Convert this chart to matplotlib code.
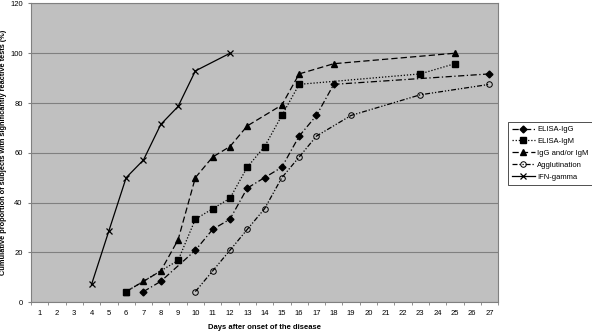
import matplotlib.pyplot as plt

plt.rcParams['font.family'] = ['Liberation Sans', 'DejaVu Sans']

# Datos (dia, porcentaje)
days = list(range(1, 28))

igg_days = [7, 8, 10, 11, 12, 13, 14, 15, 16, 17, 18, 27]
igg_vals = [4.2, 8.3, 20.8, 29.2, 33.3, 45.8, 50.0, 54.2, 66.7, 75.0, 87.5, 91.7]

igm_days = [6, 9, 10, 11, 12, 13, 14, 15, 16, 23, 25]
igm_vals = [4.2, 16.7, 33.3, 37.5, 41.7, 54.2, 62.5, 75.0, 87.5, 91.7, 95.8]

both_days = [6, 7, 8, 9, 10, 11, 12, 13, 15, 16, 18, 25]
both_vals = [4.2, 8.3, 12.5, 25.0, 50.0, 58.3, 62.5, 70.8, 79.2, 91.7, 95.8, 100.0]

agg_days = [10, 11, 12, 13, 14, 15, 16, 17, 19, 23, 27]
agg_vals = [4.2, 12.5, 20.8, 29.2, 37.5, 50.0, 58.3, 66.7, 75.0, 83.3, 87.5]

ifn_days = [4, 5, 6, 7, 8, 9, 10, 12]
ifn_vals = [7.1, 28.6, 50.0, 57.1, 71.4, 78.6, 92.9, 100.0]

fig = plt.figure(figsize=(5.92, 3.33), dpi=100)
ax = fig.add_axes([0.0524, 0.093, 0.789, 0.8965])
ax.set_facecolor('#c0c0c0')

lw = 0.9
ax.plot(igg_days, igg_vals, color='black', lw=lw, ls=(0, (5, 2, 1, 2)),
        marker='D', ms=3.5, label='ELISA-IgG')
ax.plot(igm_days, igm_vals, color='black', lw=lw, ls=(0, (1, 1.5)),
        marker='s', ms=4.5, label='ELISA-IgM')
ax.plot(both_days, both_vals, color='black', lw=lw, ls=(0, (5, 2.5)),
        marker='^', ms=4.5, label='IgG and/or IgM')
ax.plot(agg_days, agg_vals, color='black', lw=lw, ls=(0, (4, 1.5, 1, 1.5, 1, 1.5)),
        marker='o', ms=4, mfc='none', mew=0.7, label='Agglutination')
ax.plot(ifn_days, ifn_vals, color='black', lw=lw, ls='-',
        marker='x', ms=4.5, mew=0.9, label='IFN-gamma')

ax.set_xlim(0.5, 27.5)
ax.set_ylim(0, 120)
ax.set_xticks(days)
ax.set_xticklabels([str(d) for d in days])
ax.set_xticks([d + 0.5 for d in range(0, 28)], minor=True)
ax.tick_params(axis='x', which='major', length=0, labelsize=5.5, pad=6)
ax.tick_params(axis='x', which='minor', length=2.5, direction='out', color='#808080')
ax.set_yticks(range(0, 121, 20))
ax.tick_params(axis='y', length=2.5, direction='out', labelsize=5.5, color='#808080')
ax.yaxis.grid(True, color='#808080', lw=0.8)
ax.set_axisbelow(True)
for s in ax.spines.values():
    s.set_color('#808080')
    s.set_linewidth(0.8)

ax.set_xlabel('Days after onset of the disease', fontsize=5.5, fontweight='bold', labelpad=5)
ax.set_ylabel('Cumulative proportion of subjects with significantly reactive tests (%)',
              fontsize=5.3, fontweight='bold')
ax.yaxis.set_label_coords(-0.052, 0.5)

leg = fig.legend(loc='upper left', bbox_to_anchor=(0.852, 0.645), fontsize=5.5,
                 frameon=True, fancybox=False, edgecolor='black', handlelength=3.0,
                 borderpad=0.5, labelspacing=0.6, handletextpad=0.3)
leg.get_frame().set_linewidth(0.6)

fig.savefig('out.png', dpi=100)
